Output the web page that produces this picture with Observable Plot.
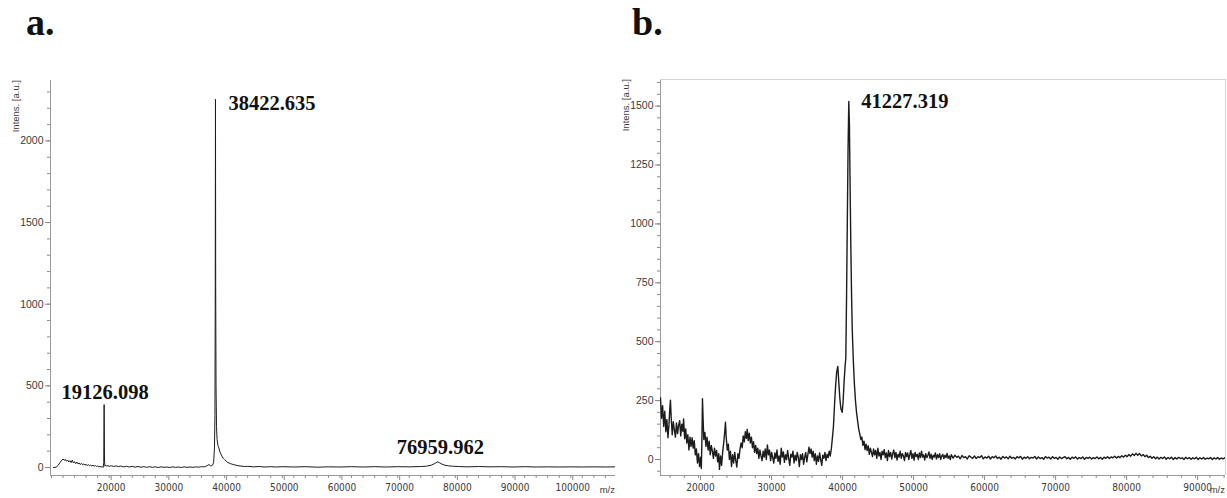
<!DOCTYPE html>
<html><head><meta charset="utf-8">
<script src="https://cdn.jsdelivr.net/npm/d3@7"></script>
<script src="https://cdn.jsdelivr.net/npm/@observablehq/plot@0.6"></script>
<style>
body{margin:0;background:#fff;}
#wrap{position:relative;width:1227px;height:498px;overflow:hidden;background:#fff;}
.ttl{position:absolute;font-family:"Liberation Serif","Times New Roman",serif;font-weight:bold;font-size:38px;line-height:38px;color:#111;}
.panel{position:absolute;top:60px;}
</style></head><body>
<div id="wrap">
<div class="ttl" style="left:26px;top:3px">a.</div>
<div class="ttl" style="left:632px;top:3px">b.</div>
<div class="panel" id="pa" style="left:0px"></div>
<div class="panel" id="pb" style="left:618px"></div>
</div>
<script>
// ---- Panel a: spectrum (m/z, intensity) ----
const spectrumA = [
[10350,0],[10800,2],[11200,15],[11500,32],[11800,45],[12000,52],[12200,44],[12400,50],[12600,38],[12800,46],
[13000,34],[13200,42],[13400,30],[13600,45],[13800,28],[14000,36],[14200,24],[14400,33],[14600,22],[14800,28],
[15000,18],[15200,26],[15400,16],[15600,22],[15800,14],[16000,20],[16200,12],[16400,18],[16600,10],[16800,15],
[17000,9],[17200,14],[17400,8],[17600,12],[17800,6],[18000,10],[18200,4],[18400,8],[18600,2],[18800,6],
[18950,0],[19060,30],[19126,385],[19190,40],[19260,8],[19400,14],[19600,8],[19800,12],[20000,7],[20400,11],
[20800,6],[21200,10],[21600,5],[22000,9],[22500,4],[23000,8],[23500,3],[24000,7],[24500,2],[25000,6],
[25500,2],[26000,5],[26500,1],[27000,5],[27500,1],[28000,4],[28500,0],[29000,4],[29500,1],[30000,3],
[30500,0],[31000,4],[31500,1],[32000,3],[32500,0],[33000,4],[33500,1],[34000,3],[34500,1],[35000,4],
[35500,2],[36000,5],[36500,4],[37000,12],[37300,18],[37600,9],[37900,14],[38100,30],[38250,120],[38330,320],
[38380,1000],[38422,2255],[38460,1100],[38520,500],[38600,250],[38700,170],[38850,135],[39000,120],[39200,95],[39400,80],
[39600,65],[39800,55],[40000,48],[40300,38],[40600,30],[41000,24],[41500,18],[42000,14],[42500,10],[43000,8],
[43500,6],[44000,7],[45000,4],[46000,6],[47000,3],[48000,5],[49000,3],[50000,5],[52000,3],[54000,5],
[56000,2],[58000,4],[60000,3],[62000,5],[64000,3],[66000,5],[68000,3],[70000,5],[72000,4],[74000,6],
[75000,8],[75800,14],[76400,24],[76960,35],[77300,28],[77700,20],[78200,14],[78800,10],[79500,8],[80500,6],
[82000,4],[84000,6],[86000,4],[88000,5],[90000,3],[92000,5],[94000,3],[96000,4],[98000,3],[100000,4],
[102000,3],[104000,4],[106000,3],[107700,4]
];
const peakMzA = [19126.098, 38422.635, 76959.962];
const peakIntA = [385, 2255, 35];
const xTicksA = [20000, 30000, 40000, 50000, 60000, 70000, 80000, 90000, 100000];
const yTicksA = [0, 500, 1000, 1500, 2000];

// ---- Panel b: spectrum (m/z, intensity) ----
const spectrumB = [
[14650,262],[14800,175],[14950,228],[15100,140],[15250,205],[15400,118],[15550,170],[15700,92],[15850,150],[15950,210],
[16050,252],[16150,180],[16300,105],[16450,160],[16600,125],[16750,95],[16900,155],[17050,110],[17200,145],[17350,165],
[17500,100],[17650,150],[17800,120],[17900,172],[18050,88],[18200,130],[18350,70],[18500,105],[18650,40],[18800,95],
[18950,55],[19100,92],[19250,48],[19400,80],[19550,20],[19700,45],[19850,-15],[20000,25],[20150,-30],[20300,10],
[20400,-38],[20480,80],[20560,258],[20650,170],[20750,85],[20900,115],[21050,55],[21200,95],[21350,40],[21500,78],
[21650,20],[21800,60],[21950,35],[22100,5],[22250,48],[22400,15],[22550,38],[22700,-10],[22850,25],[22950,-42],
[23100,15],[23250,-25],[23400,30],[23550,70],[23700,120],[23800,158],[23900,95],[24050,40],[24200,65],[24350,0],
[24500,35],[24650,-30],[24800,20],[24950,-15],[25100,30],[25250,-5],[25400,-32],[25550,25],[25700,5],[25850,45],
[26000,70],[26150,50],[26300,100],[26450,75],[26600,118],[26750,90],[26860,128],[27000,80],[27150,112],[27300,70],
[27450,95],[27600,50],[27750,75],[27900,30],[28050,60],[28200,25],[28350,48],[28500,5],[28650,40],[28800,15],
[28950,-5],[29100,35],[29250,10],[29400,45],[29550,0],[29700,62],[29850,20],[30000,40],[30150,-5],[30300,30],
[30450,8],[30600,-15],[30750,28],[30900,5],[31050,40],[31200,-8],[31350,15],[31500,-20],[31650,48],[31800,10],
[31950,32],[32100,-12],[32250,20],[32400,0],[32550,38],[32700,5],[32850,-25],[33000,22],[33150,10],[33300,35],
[33450,-15],[33600,18],[33750,-5],[33900,30],[34050,8],[34200,-30],[34350,20],[34500,0],[34650,25],[34800,-20],
[34950,10],[35100,30],[35250,-10],[35400,20],[35550,52],[35700,25],[35850,45],[36000,10],[36150,35],[36300,-5],
[36450,25],[36600,-20],[36750,15],[36900,-8],[37050,28],[37200,0],[37350,-25],[37500,18],[37650,5],[37800,30],
[37950,-5],[38100,22],[38250,8],[38400,35],[38550,15],[38700,45],[38850,90],[39000,140],[39150,230],[39300,310],
[39450,370],[39620,395],[39750,330],[39900,260],[40050,215],[40230,200],[40350,240],[40500,330],[40650,400],[40740,430],
[40850,700],[40950,1000],[41050,1300],[41160,1520],[41250,1420],[41350,1150],[41450,900],[41550,700],[41650,550],[41800,420],
[41950,320],[42100,250],[42250,200],[42400,165],[42550,130],[42700,110],[42850,85],[43000,95],[43150,60],[43300,78],
[43450,42],[43600,65],[43750,38],[43900,58],[44050,22],[44200,48],[44350,30],[44500,12],[44650,45],[44800,20],
[44950,38],[45100,5],[45250,48],[45400,15],[45550,30],[45700,0],[45850,35],[46000,20],[46150,42],[46300,8],
[46450,28],[46600,-5],[46750,38],[46900,12],[47050,30],[47200,2],[47350,25],[47500,40],[47650,8],[47800,30],
[47950,-2],[48100,22],[48250,10],[48400,35],[48550,5],[48700,25],[48850,15],[49000,-5],[49150,30],[49300,12],
[49450,28],[49600,0],[49750,20],[49900,38],[50050,5],[50200,25],[50350,-3],[50500,30],[50650,12],[50800,22],
[50950,0],[51100,28],[51250,8],[51400,35],[51550,10],[51700,20],[51850,-2],[52000,25],[52150,8],[52300,18],
[52450,32],[52600,5],[52750,22],[52900,0],[53050,18],[53200,10],[53350,28],[53500,2],[53650,20],[53800,8],
[53950,25],[54100,0],[54250,15],[54400,22],[54550,4],[54700,18],[54850,8],[55000,26],[55150,5],[55300,15],
[55450,0],[55600,20],[55850,6],[56100,18],[56350,9],[56600,14],[56850,3],[57100,17],[57350,8],[57600,12],
[57850,2],[58100,16],[58350,10],[58600,5],[58850,15],[59100,4],[59350,12],[59600,8],[59850,16],[60100,3],
[60350,11],[60600,6],[60850,14],[61100,2],[61350,12],[61600,7],[61850,15],[62100,4],[62350,10],[62600,1],
[62850,13],[63100,6],[63350,11],[63600,3],[63850,14],[64100,5],[64350,9],[64600,2],[64850,12],[65100,7],
[65350,13],[65600,1],[65850,10],[66100,5],[66350,12],[66600,3],[66850,9],[67100,6],[67350,13],[67600,2],
[67850,11],[68100,4],[68350,8],[68600,1],[68850,12],[69100,6],[69350,10],[69600,2],[69850,12],[70100,5],
[70350,9],[70600,1],[70850,11],[71100,4],[71350,8],[71600,12],[71850,3],[72100,9],[72350,1],[72600,10],
[72850,5],[73100,11],[73350,2],[73600,8],[73850,4],[74100,11],[74350,1],[74600,9],[74850,5],[75100,10],
[75350,2],[75600,8],[75850,4],[76100,11],[76350,3],[76600,9],[76850,1],[77100,10],[77350,5],[77600,12],
[77850,4],[78100,11],[78350,7],[78600,14],[78850,6],[79100,13],[79350,8],[79600,16],[79850,10],[80100,18],
[80350,12],[80600,21],[80850,14],[81100,24],[81350,17],[81600,26],[81850,18],[82100,25],[82350,15],[82600,21],
[82850,12],[83100,18],[83350,8],[83600,14],[83850,5],[84100,12],[84350,3],[84600,10],[84850,2],[85100,9],
[85350,4],[85600,11],[85850,1],[86100,8],[86350,3],[86600,10],[86850,0],[87100,8],[87350,2],[87600,9],
[87850,4],[88100,7],[88350,0],[88600,9],[88850,3],[89100,8],[89350,1],[89600,7],[89850,3],[90100,9],
[90350,0],[90600,7],[90850,2],[91100,8],[91350,1],[91600,6],[91850,3],[92100,8],[92350,0],[92600,7],
[92850,2],[93100,8],[93350,1],[93600,6],[93850,3],[94100,7],[94200,4]
];
const peakMzB = [41227.319];
const peakIntB = [1520];
const xTicksB = [20000, 30000, 40000, 50000, 60000, 70000, 80000, 90000];
const yTicksB = [0, 250, 500, 750, 1000, 1250, 1500];

const fmt = d3.format(".3f");
const TICK = "#8a8a8a", TXT = "#3a3a3a";
const narrow = "'Liberation Sans Narrow','DejaVu Sans Condensed','Liberation Sans',sans-serif";

function panel(el, cfg) {
  const peaks = cfg.peakMz.map((m, i) => ({mz: m, y: cfg.peakInt[i], label: fmt(m)}));
  const labelMarks = cfg.labels.map(L => Plot.text([peaks[L.i]], {
    x: "mz", y: "y", text: "label", textAnchor: L.anchor, dx: L.dx, dy: L.dy,
    lineAnchor: "bottom", fontSize: 20.5, fontWeight: "bold",
    fontFamily: "'Liberation Serif','Times New Roman',serif", fill: "#111"
  }));
  const marks = [
    Plot.axisY({ticks: cfg.yMinor, tickSize: 3, tickFormat: () => "", stroke: TICK, label: null}),
    Plot.axisY({ticks: cfg.yTicks, tickSize: 5, tickPadding: 2, tickFormat: d => String(d), label: null,
      stroke: TICK, fill: TXT, fontSize: 10.5, fontFamily: "'Liberation Sans',Arial,sans-serif"}),
    Plot.axisX({ticks: cfg.xMinor, tickSize: 3, tickFormat: () => "", stroke: TICK, label: null}),
    Plot.axisX({ticks: cfg.xTicks, tickSize: 5, tickPadding: 3, tickFormat: d => String(d), dx: 2, label: null,
      stroke: TICK, fill: TXT, fontSize: 10, fontFamily: narrow}),
    Plot.ruleX([cfg.xDomain[0]], {stroke: "#9a9a9a"}),
    Plot.ruleY([cfg.yDomain[0]], {stroke: "#9a9a9a"}),
  ];
  if (cfg.frame) {
    marks.push(Plot.ruleY([cfg.yDomain[1]], {stroke: "#d4d4d4"}));
    marks.push(Plot.ruleX([cfg.xDomain[1]], {stroke: "#d4d4d4"}));
  }
  marks.push(Plot.line(cfg.data, {x: d => d[0], y: d => d[1], stroke: "#1c1c1c", strokeWidth: cfg.sw, clip: true}));
  marks.push(...labelMarks);
  const svg = Plot.plot({
    width: cfg.width, height: 438,
    marginLeft: cfg.ml, marginRight: cfg.mr, marginTop: cfg.mt, marginBottom: 23,
    x: {domain: cfg.xDomain, axis: null},
    y: {domain: cfg.yDomain, axis: null},
    style: {background: "transparent", overflow: "visible", fontFamily: "'Liberation Sans',Arial,sans-serif", color: TXT},
    marks
  });
  const s = d3.select(svg);
  s.append("text").attr("transform", `translate(${cfg.ml - 31.5},${cfg.mt}) rotate(-90)`)
    .attr("text-anchor", "end").attr("font-size", 9.5).attr("fill", TXT)
    .attr("font-family", "'Liberation Sans',Arial,sans-serif").text("Intens. [a.u.]");
  s.append("text").attr("x", cfg.width - cfg.mr).attr("y", 438 - 23 + 18)
    .attr("text-anchor", "end").attr("font-size", 9.5).attr("fill", TXT)
    .attr("font-family", "'Liberation Sans',Arial,sans-serif").text("m/z");
  document.getElementById(el).appendChild(svg);
}

panel("pa", {
  data: spectrumA, width: 618, ml: 50, mr: 3, mt: 20, sw: 1,
  xDomain: [9830, 107750], yDomain: [-49, 2370],
  xTicks: xTicksA, xMinor: d3.range(10000, 107001, 2000),
  yTicks: yTicksA, yMinor: d3.range(0, 2301, 100),
  peakMz: peakMzA, peakInt: peakIntA, frame: false,
  labels: [
    {i: 0, anchor: "middle", dx: 1, dy: -6},
    {i: 1, anchor: "start", dx: 13, dy: 11},
    {i: 2, anchor: "middle", dx: 2.5, dy: -8}
  ]
});
panel("pb", {
  data: spectrumB, width: 609, ml: 42, mr: 2, mt: 19, sw: 1.4,
  xDomain: [14650, 94200], yDomain: [-68, 1613],
  xTicks: xTicksB, xMinor: d3.range(16000, 94001, 2000),
  yTicks: yTicksB, yMinor: d3.range(-50, 1601, 50),
  peakMz: peakMzB, peakInt: peakIntB, frame: true,
  labels: [
    {i: 0, anchor: "start", dx: 12, dy: 7}
  ]
});
</script>
</body></html>
